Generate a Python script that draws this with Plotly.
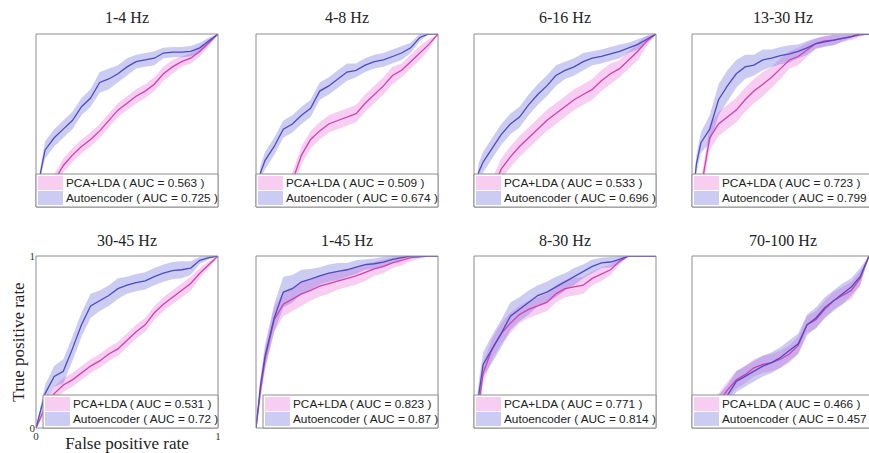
import plotly.graph_objects as go

# ---------------- data ----------------
FPR = [0, 0.025, 0.05, 0.1, 0.15, 0.2, 0.25, 0.3, 0.35, 0.4, 0.45, 0.5,
       0.55, 0.6, 0.65, 0.7, 0.75, 0.8, 0.85, 0.9, 0.95, 1.0]

BAND_NAMES = ["1-4 Hz", "4-8 Hz", "6-16 Hz", "13-30 Hz",
              "30-45 Hz", "1-45 Hz", "8-30 Hz", "70-100 Hz"]
AUC_PCA = ["0.563", "0.509", "0.533", "0.723", "0.531", "0.823", "0.771", "0.466"]
AUC_AE = ["0.725", "0.674", "0.696", "0.799", "0.72", "0.87", "0.814", "0.457"]

# 1-4 Hz
ae_1_4 = [0, 0.20, 0.33, 0.40, 0.45, 0.50, 0.58, 0.63, 0.72, 0.74, 0.77, 0.81, 0.84, 0.85, 0.86, 0.89, 0.895, 0.895, 0.90, 0.92, 0.96, 1.0]
ae_sd_1_4 = [0, 0.03, 0.05, 0.05, 0.05, 0.05, 0.05, 0.05, 0.06, 0.06, 0.05, 0.05, 0.04, 0.04, 0.04, 0.03, 0.03, 0.03, 0.03, 0.03, 0.02, 0]
pca_1_4 = [0, 0.02, 0.05, 0.15, 0.24, 0.30, 0.35, 0.39, 0.44, 0.50, 0.56, 0.60, 0.64, 0.67, 0.71, 0.77, 0.81, 0.84, 0.86, 0.90, 0.95, 1.0]
pca_sd_1_4 = [0, 0.02, 0.03, 0.04, 0.04, 0.04, 0.04, 0.04, 0.04, 0.04, 0.04, 0.04, 0.04, 0.04, 0.04, 0.04, 0.04, 0.03, 0.03, 0.03, 0.02, 0]

# 4-8 Hz
ae_4_8 = [0, 0.20, 0.27, 0.35, 0.45, 0.48, 0.53, 0.57, 0.67, 0.70, 0.74, 0.78, 0.79, 0.82, 0.84, 0.85, 0.87, 0.89, 0.92, 0.98, 1.0, 1.0]
ae_sd_4_8 = [0, 0.04, 0.05, 0.05, 0.05, 0.05, 0.05, 0.05, 0.05, 0.05, 0.05, 0.05, 0.04, 0.04, 0.04, 0.04, 0.04, 0.04, 0.03, 0.02, 0, 0]
pca_4_8 = [0, 0.0, 0.01, 0.03, 0.07, 0.15, 0.30, 0.39, 0.44, 0.48, 0.50, 0.52, 0.54, 0.60, 0.65, 0.70, 0.76, 0.79, 0.84, 0.89, 0.94, 1.0]
pca_sd_4_8 = [0, 0.0, 0.01, 0.03, 0.04, 0.05, 0.05, 0.05, 0.05, 0.05, 0.05, 0.05, 0.05, 0.05, 0.05, 0.05, 0.05, 0.04, 0.04, 0.04, 0.03, 0]

# 6-16 Hz
ae_6_16 = [0, 0.20, 0.26, 0.34, 0.42, 0.48, 0.52, 0.59, 0.65, 0.70, 0.76, 0.79, 0.81, 0.84, 0.86, 0.87, 0.885, 0.90, 0.92, 0.94, 0.97, 1.0]
ae_sd_6_16 = [0, 0.05, 0.06, 0.06, 0.06, 0.06, 0.06, 0.06, 0.06, 0.06, 0.06, 0.05, 0.05, 0.05, 0.04, 0.04, 0.04, 0.04, 0.03, 0.03, 0.02, 0]
pca_6_16 = [0, 0.0, 0.02, 0.10, 0.22, 0.29, 0.35, 0.40, 0.45, 0.50, 0.54, 0.58, 0.62, 0.65, 0.68, 0.73, 0.77, 0.80, 0.85, 0.90, 0.96, 1.0]
pca_sd_6_16 = [0, 0.01, 0.03, 0.06, 0.06, 0.06, 0.06, 0.06, 0.06, 0.06, 0.06, 0.06, 0.06, 0.06, 0.06, 0.06, 0.06, 0.05, 0.05, 0.05, 0.03, 0]

# 13-30 Hz
ae_13_30 = [0, 0.25, 0.37, 0.45, 0.62, 0.70, 0.77, 0.81, 0.82, 0.85, 0.86, 0.875, 0.885, 0.90, 0.92, 0.945, 0.955, 0.965, 0.975, 0.985, 1.0, 1.0]
ae_sd_13_30 = [0, 0.05, 0.06, 0.08, 0.09, 0.09, 0.08, 0.07, 0.06, 0.06, 0.05, 0.05, 0.05, 0.04, 0.04, 0.03, 0.03, 0.03, 0.02, 0.01, 0, 0]
pca_13_30 = [0, 0.0, 0.10, 0.40, 0.48, 0.52, 0.56, 0.62, 0.67, 0.71, 0.75, 0.80, 0.85, 0.87, 0.91, 0.945, 0.96, 0.965, 0.975, 0.985, 0.995, 1.0]
pca_sd_13_30 = [0, 0.0, 0.05, 0.07, 0.07, 0.07, 0.07, 0.07, 0.07, 0.07, 0.06, 0.06, 0.05, 0.05, 0.04, 0.03, 0.03, 0.03, 0.02, 0.02, 0.01, 0]

# 30-45 Hz
ae_30_45 = [0, 0.10, 0.20, 0.30, 0.33, 0.46, 0.60, 0.71, 0.74, 0.77, 0.81, 0.83, 0.845, 0.855, 0.88, 0.90, 0.915, 0.92, 0.93, 0.975, 0.99, 1.0]
ae_sd_30_45 = [0, 0.03, 0.05, 0.06, 0.07, 0.07, 0.07, 0.07, 0.06, 0.06, 0.06, 0.05, 0.05, 0.05, 0.05, 0.05, 0.05, 0.05, 0.04, 0.02, 0.01, 0]
pca_30_45 = [0, 0.06, 0.12, 0.20, 0.25, 0.28, 0.32, 0.36, 0.39, 0.43, 0.46, 0.51, 0.56, 0.60, 0.67, 0.72, 0.76, 0.80, 0.84, 0.90, 0.95, 1.0]
pca_sd_30_45 = [0, 0.02, 0.03, 0.04, 0.04, 0.04, 0.04, 0.04, 0.04, 0.04, 0.04, 0.04, 0.04, 0.04, 0.04, 0.04, 0.04, 0.04, 0.04, 0.03, 0.02, 0]

# 1-45 Hz
ae_1_45 = [0, 0.25, 0.42, 0.64, 0.79, 0.81, 0.85, 0.865, 0.885, 0.90, 0.91, 0.92, 0.935, 0.95, 0.955, 0.965, 0.98, 0.99, 1.0, 1.0, 1.0, 1.0]
ae_sd_1_45 = [0, 0.05, 0.07, 0.08, 0.09, 0.08, 0.07, 0.06, 0.05, 0.05, 0.05, 0.04, 0.04, 0.03, 0.03, 0.03, 0.02, 0.01, 0, 0, 0, 0]
pca_1_45 = [0, 0.22, 0.40, 0.63, 0.72, 0.75, 0.78, 0.80, 0.825, 0.84, 0.855, 0.87, 0.885, 0.905, 0.925, 0.94, 0.96, 0.975, 0.99, 0.995, 1.0, 1.0]
pca_sd_1_45 = [0, 0.05, 0.06, 0.07, 0.07, 0.07, 0.07, 0.06, 0.06, 0.06, 0.05, 0.05, 0.05, 0.05, 0.04, 0.04, 0.03, 0.03, 0.02, 0.01, 0, 0]

# 8-30 Hz
ae_8_30 = [0, 0.20, 0.37, 0.46, 0.55, 0.65, 0.69, 0.73, 0.77, 0.79, 0.82, 0.85, 0.88, 0.91, 0.94, 0.96, 0.965, 0.98, 1.0, 1.0, 1.0, 1.0]
ae_sd_8_30 = [0, 0.06, 0.07, 0.08, 0.08, 0.08, 0.07, 0.07, 0.06, 0.06, 0.06, 0.05, 0.05, 0.04, 0.04, 0.03, 0.03, 0.02, 0, 0, 0, 0]
pca_8_30 = [0, 0.12, 0.32, 0.46, 0.55, 0.61, 0.66, 0.69, 0.71, 0.73, 0.78, 0.81, 0.82, 0.83, 0.87, 0.895, 0.92, 0.97, 1.0, 1.0, 1.0, 1.0]
pca_sd_8_30 = [0, 0.05, 0.06, 0.06, 0.06, 0.06, 0.05, 0.05, 0.05, 0.05, 0.05, 0.05, 0.05, 0.05, 0.04, 0.04, 0.03, 0.02, 0, 0, 0, 0]

# 70-100 Hz
ae_70_100 = [0, 0.01, 0.03, 0.08, 0.13, 0.19, 0.27, 0.30, 0.33, 0.36, 0.38, 0.41, 0.45, 0.49, 0.60, 0.64, 0.70, 0.74, 0.78, 0.82, 0.88, 1.0]
ae_sd_70_100 = [0, 0.01, 0.03, 0.05, 0.06, 0.06, 0.06, 0.06, 0.06, 0.06, 0.06, 0.06, 0.06, 0.06, 0.06, 0.06, 0.06, 0.06, 0.06, 0.05, 0.05, 0]
pca_70_100 = [0, 0.01, 0.03, 0.08, 0.15, 0.22, 0.28, 0.31, 0.35, 0.37, 0.38, 0.40, 0.43, 0.48, 0.60, 0.63, 0.69, 0.74, 0.77, 0.80, 0.87, 1.0]
pca_sd_70_100 = [0, 0.01, 0.03, 0.05, 0.05, 0.05, 0.05, 0.05, 0.05, 0.05, 0.05, 0.05, 0.05, 0.05, 0.05, 0.05, 0.05, 0.05, 0.05, 0.05, 0.04, 0]

AE = [ae_1_4, ae_4_8, ae_6_16, ae_13_30, ae_30_45, ae_1_45, ae_8_30, ae_70_100]
AE_SD = [ae_sd_1_4, ae_sd_4_8, ae_sd_6_16, ae_sd_13_30, ae_sd_30_45, ae_sd_1_45, ae_sd_8_30, ae_sd_70_100]
PCA = [pca_1_4, pca_4_8, pca_6_16, pca_13_30, pca_30_45, pca_1_45, pca_8_30, pca_70_100]
PCA_SD = [pca_sd_1_4, pca_sd_4_8, pca_sd_6_16, pca_sd_13_30, pca_sd_30_45, pca_sd_1_45, pca_sd_8_30, pca_sd_70_100]

# ---------------- layout / styling ----------------
W, H = 869, 453
COLS_PX = [(36, 218), (256, 438), (474, 656), (692, 869)]
ROWS_PX = [(34, 207), (256, 428)]

BLUE_LINE = "#4b4bc6"
PINK_LINE = "#d23fae"
BLUE_FILL = "rgba(110,110,220,0.35)"
PINK_FILL = "rgba(235,130,220,0.40)"
FRAME = "#8c8c8c"
SERIF = "Liberation Serif"
SANS = "Liberation Sans"

fig = go.Figure()
layout = dict(width=W, height=H, margin=dict(l=0, r=0, t=0, b=0, autoexpand=False),
              paper_bgcolor="white", plot_bgcolor="white", showlegend=False)
shapes, annots = [], []

for k in range(8):
    r, c = divmod(k, 4)
    x0p, x1p = COLS_PX[c]
    y0p, y1p = ROWS_PX[r]
    wpx, hpx = x1p - x0p, y1p - y0p
    cut = (c == 3)
    n = "" if k == 0 else str(k + 1)
    xa, ya = "x" + n, "y" + n
    ax_common = dict(range=[0, 1], showgrid=False, zeroline=False, showline=False,
                     fixedrange=True, showticklabels=False, ticks="", automargin=False)
    xaxis = dict(ax_common, domain=[x0p / W, x1p / W], anchor=ya)
    yaxis = dict(ax_common, domain=[1 - y1p / H, 1 - y0p / H], anchor=xa)
    if k == 4:
        xaxis.update(showticklabels=True, tickvals=[0, 1], ticktext=["0", "1"],
                     ticklabelstandoff=0,
                     tickfont=dict(family=SERIF, size=11, color="#333"),
                     title=dict(text="False positive rate", standoff=0,
                                font=dict(family=SERIF, size=17, color="#222")))
        yaxis.update(showticklabels=True, tickvals=[0, 1], ticktext=["0", "1"],
                     ticklabelstandoff=0,
                     tickfont=dict(family=SERIF, size=11, color="#333"),
                     title=dict(text="True positive rate", standoff=0,
                                font=dict(family=SERIF, size=17, color="#222")))
    layout["xaxis" + n] = xaxis
    layout["yaxis" + n] = yaxis

    # bands
    for vals, sd, fill in ((PCA[k], PCA_SD[k], PINK_FILL), (AE[k], AE_SD[k], BLUE_FILL)):
        up = [min(1.0, v + s) for v, s in zip(vals, sd)]
        lo = [max(0.0, v - s) for v, s in zip(vals, sd)]
        fig.add_trace(go.Scatter(x=FPR + FPR[::-1], y=up + lo[::-1], fill="toself",
                                 fillcolor=fill, line=dict(width=0), mode="lines",
                                 hoverinfo="skip", xaxis=xa, yaxis=ya))
    for vals, col in ((PCA[k], PINK_LINE), (AE[k], BLUE_LINE)):
        fig.add_trace(go.Scatter(x=FPR, y=vals, mode="lines",
                                 line=dict(color=col, width=1.3),
                                 cliponaxis=False, xaxis=xa, yaxis=ya))

    xr, yr = xa + " domain", ya + " domain"
    px = 1.0 / wpx
    py = 1.0 / hpx
    right = 1 + (4 * px if cut else 0)
    # frame
    shapes.append(dict(type="rect", xref=xr, yref=yr, x0=0, x1=right, y0=0, y1=1,
                       line=dict(color=FRAME, width=1), fillcolor="rgba(0,0,0,0)"))
    # legend box (right-aligned, width fitted to labels)
    lab1 = "PCA+LDA ( AUC = " + AUC_PCA[k] + " )"
    lab2 = "Autoencoder ( AUC = " + AUC_AE[k] + " )"
    maxlen = max(len(lab1), len(lab2))
    lx = 0 if cut else max(0, (27 - maxlen)) * 7 * px
    ltop = 33 * py
    shapes.append(dict(type="rect", xref=xr, yref=yr, x0=lx, x1=right, y0=0, y1=ltop,
                       line=dict(color=FRAME, width=1), fillcolor="white", layer="above"))
    rows = [(lab1, PINK_FILL, 17 * py, 31 * py), (lab2, BLUE_FILL, 2 * py, 16 * py)]
    for lab, fc, sy0, sy1 in rows:
        shapes.append(dict(type="rect", xref=xr, yref=yr, x0=lx + 2 * px, x1=lx + 27 * px,
                           y0=sy0, y1=sy1, line=dict(width=0), fillcolor=fc, layer="above"))
        annots.append(dict(xref=xr, yref=yr, x=lx + 28 * px, y=(sy0 + sy1) / 2,
                           xanchor="left", yanchor="middle", showarrow=False, text=lab,
                           font=dict(family=SANS, size=11.8, color="#222")))
    # panel title
    annots.append(dict(xref=xr, yref=yr, x=0.5 * (wpx if not cut else 182) / wpx, y=1 + 16 * py,
                       xanchor="center", yanchor="middle", showarrow=False,
                       text=BAND_NAMES[k], font=dict(family=SERIF, size=16, color="#222")))

layout["shapes"] = shapes
layout["annotations"] = annots
fig.update_layout(**layout)
fig.write_html("out.html", config={"displayModeBar": False},
               post_script="document.body.style.margin='0';document.body.style.overflow='hidden';")
